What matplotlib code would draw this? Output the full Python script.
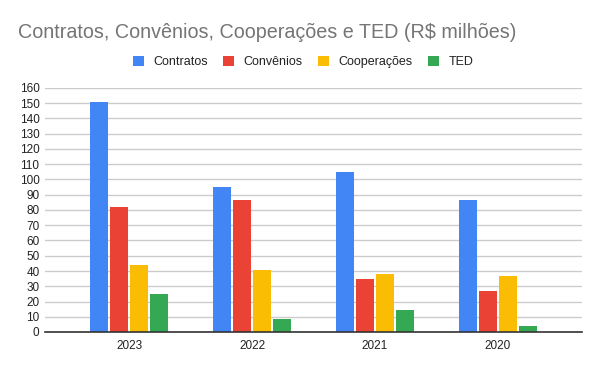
import numpy as np
from matplotlib import pyplot as plt

anos = ["2023", "2022", "2021", "2020"]
series = ["Contratos", "Convênios", "Cooperações", "TED"]
contratos = [150.7, 95.3, 104.7, 86.5]
convenios = [81.8, 86.4, 34.8, 27.0]
cooperacoes = [43.7, 40.7, 38.1, 36.9]
ted = [24.7, 8.5, 14.5, 4.1]
cores = ["#4285F4", "#EA4335", "#FBBC04", "#34A853"]

plt.rcParams['font.family'] = ['Liberation Sans', 'DejaVu Sans']

fig = plt.figure(figsize=(6, 3.71), dpi=100)
ax = fig.add_axes([45/600, 1-332/371, 537/600, 244/371])

x = np.arange(len(anos))
largura = 0.146
passo = 0.163
valores = [contratos, convenios, cooperacoes, ted]
for i, (nome, vals) in enumerate(zip(series, valores)):
    ax.bar(x + (i - 1.5)*passo, vals, largura, color=cores[i], label=nome, zorder=3)

ax.set_xlim(-0.683, 3.683)
ax.set_ylim(0, 160)
ax.set_yticks(range(0, 161, 10))
ax.set_xticks(x)
ax.set_xticklabels(anos)
ax.grid(axis='y', color='#cccccc', linewidth=1, zorder=0)
for s in ['top', 'right', 'left']:
    ax.spines[s].set_visible(False)
ax.spines['bottom'].set_color('#333333')
ax.spines['bottom'].set_linewidth(1.2)
ax.spines['bottom'].set_zorder(4)
ax.tick_params(axis='both', length=0, labelsize=8.5, colors='#222222')
ax.tick_params(axis='y', pad=4)
ax.tick_params(axis='x', pad=6)

fig.text(18/600, 1-33/371, "Contratos, Convênios, Cooperações e TED (R$ milhões)",
         fontsize=14.2, color='#757575', va='center', ha='left')
fig.legend(loc='center', bbox_to_anchor=(0.505, 1-62/371), ncol=4, frameon=False,
           fontsize=9, handlelength=0.9, handleheight=0.9, columnspacing=1.2,
           handletextpad=0.75, labelcolor='#222222')

plt.savefig("out.png", dpi=100)
